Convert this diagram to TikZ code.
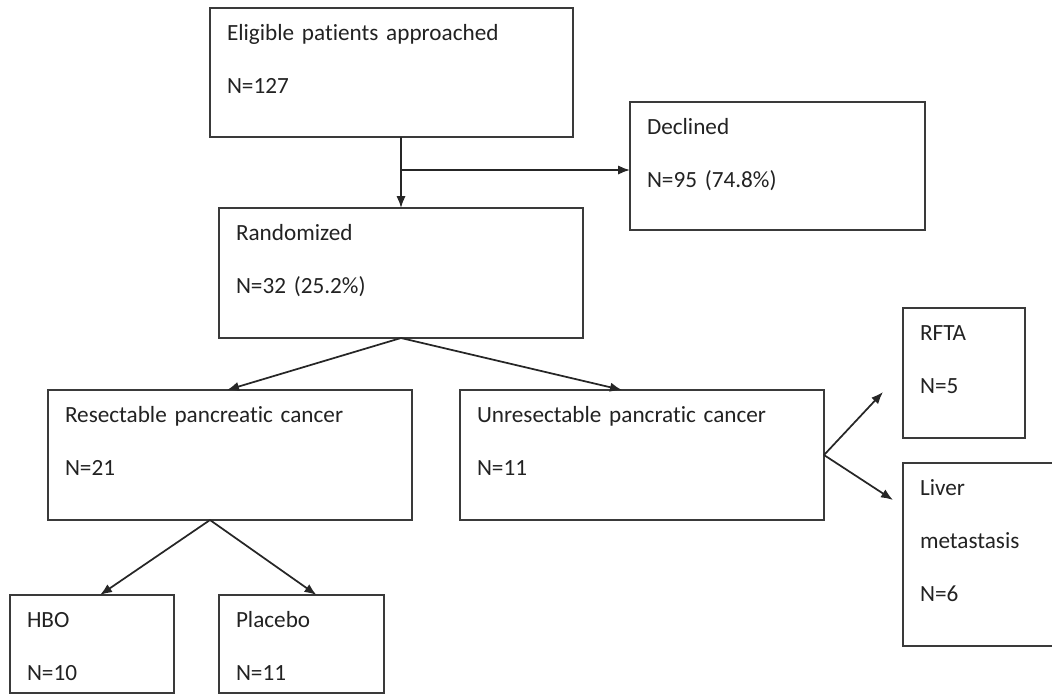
\documentclass[tikz,border=0pt]{standalone}
\usepackage{fontspec}
\setmainfont[Ligatures=NoCommon]{Carlito}
\usepackage{tikz}
\usepackage{xcolor}
\usetikzlibrary{calc}
\usetikzlibrary{arrows.meta}

\definecolor{boxline}{HTML}{3A3A3A}
\definecolor{boxtext}{HTML}{222222}

\tikzset{
    flowbox/.style 2 args={draw=boxline,line width=1.3pt,anchor=north west,align=left,
        inner xsep=12.75pt,inner ysep=0pt,outer sep=0pt,text=boxtext,
        text width=#1,text height=24pt,text depth=#2,
        font=\fontsize{17.4}{40}\selectfont},
    flowarrow/.style={-{Latex[length=9pt,width=7pt]},draw=black!85,line width=1.3pt}
}

\begin{document}
\begin{tikzpicture}[x=0.75pt,y=-0.75pt] %坐标单位取像素,y轴向下
        \useasboundingbox (0,0) rectangle (1052,694);
        % 方框
        \node[flowbox={246.75pt}{72.75pt}] (elig) at (210,8) {Eligible patients approached\\N=127};
        \node[flowbox={195.75pt}{72pt}] (declined) at (630,102) {Declined\\N=95 (74.8\%)};
        \node[flowbox={247.5pt}{73.5pt}] (rand) at (219,208) {Randomized\\N=32 (25.2\%)};
        \node[flowbox={247.5pt}{73.5pt}] (resect) at (48,390) {Resectable pancreatic cancer\\N=21};
        \node[flowbox={247.5pt}{73.5pt}] (unres) at (460,390) {Unresectable pancratic cancer\\N=11};
        \node[flowbox={66pt}{73.5pt}] (rfta) at (903,308) {RFTA\\N=5};
        \node[flowbox={94.5pt}{113.25pt}] (liver) at (903,463) {Liver\\metastasis\\N=6};
        \node[flowbox={97.5pt}{49.5pt}] (hbo) at (10,595) {HBO\\N=10};
        \node[flowbox={98.25pt}{49.5pt}] (placebo) at (219,595) {Placebo\\N=11};
        % 箭头
        \draw[flowarrow] (rand.north |- elig.south) -- (rand.north);
        \coordinate (split) at ($(rand.north |- elig.south)+(0,33)$);
        \draw[flowarrow] (split) -- (declined.west |- split);
        \draw[flowarrow] (rand.south) -- ($(resect.north)+(-3,0)$);
        \draw[flowarrow] (rand.south) -- ($(unres.north)+(-20,0)$);
        \draw[flowarrow] ($(resect.south)+(-20,0)$) -- ($(hbo.north)+(8,0)$);
        \draw[flowarrow] ($(resect.south)+(-20,0)$) -- ($(placebo.north)+(15,0)$);
        \coordinate (rftaend) at ($(rfta.west)+(-20,19)$);
        \coordinate (liverend) at ($(liver.north west)+(-10,37)$);
        \draw[flowarrow] (unres.east) -- (rftaend);
        \draw[flowarrow] (unres.east) -- (liverend);
    \end{tikzpicture}
\end{document}
